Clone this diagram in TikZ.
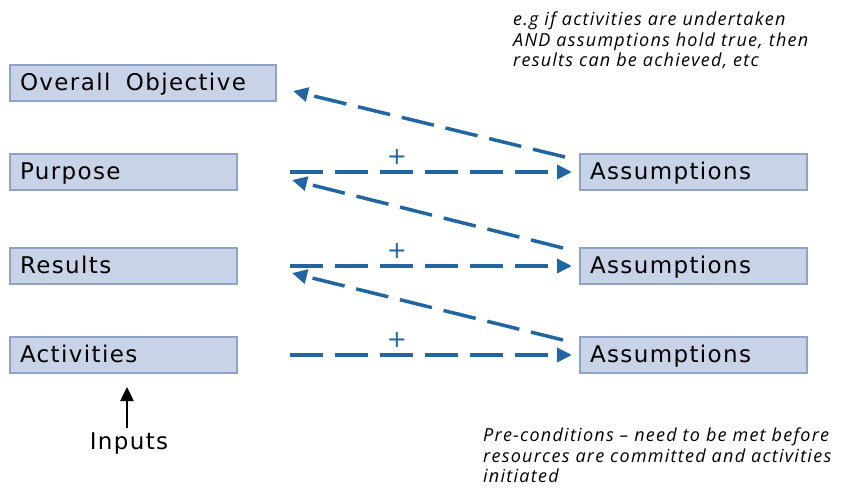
\documentclass[tikz,border=0pt]{standalone}
\usepackage{fontspec}
\setmainfont{DejaVu Sans}
\newfontfamily\notefont[LetterSpace=7]{Open Sans}
\newfontfamily\boxfont[LetterSpace=6]{DejaVu Sans}
\usetikzlibrary{arrows.meta}

\definecolor{boxfill}{HTML}{C9D3E7}
\definecolor{boxline}{HTML}{8EA3C6}
\definecolor{linkblue}{HTML}{2166A2}

\tikzset{
  levelbox/.style={draw=boxline, line width=1.2pt, fill=boxfill, anchor=west, outer sep=0pt,
    inner xsep=10pt, inner ysep=0pt, minimum height=36pt, align=left,
    font=\boxfont\fontsize{23}{26}\selectfont, text height=14pt, text depth=0pt},
  link/.style={draw=linkblue, line width=3.5pt, dash pattern=on 33pt off 12pt,
    -{Triangle[length=15pt,width=14pt]}},
  plus/.style={text=linkblue, font=\fontsize{24}{24}\selectfont, inner sep=0pt},
  note/.style={font=\notefont\itshape\fontsize{18}{20.5}\selectfont, align=left, anchor=north west, inner sep=0pt}
}

\begin{document}
\begin{tikzpicture}[x=1pt, y=-1pt]
\useasboundingbox (0,0) rectangle (844,488);

% Left column
\node[levelbox, text width=246pt] (objective) at (10,83) {Overall\ \ Objective};
\node[levelbox, text width=207pt] (purpose) at (10,172) {Purpose};
\node[levelbox, text width=207pt] (results) at (10,266) {Results};
\node[levelbox, text width=207pt] (activities) at (10,355) {Activities};

% Right column
\node[levelbox, text width=207pt] (asum1) at (580,172) {Assumptions};
\node[levelbox, text width=207pt] (asum2) at (580,266) {Assumptions};
\node[levelbox, text width=207pt] (asum3) at (580,355) {Assumptions};

% Horizontal links
\draw[link] ([xshift=53pt]purpose.east) -- ([xshift=-8pt]asum1.west);
\draw[link] ([xshift=53pt]results.east) -- ([xshift=-8pt]asum2.west);
\draw[link] ([xshift=53pt]activities.east) -- ([xshift=-8pt]asum3.west);

% Plus signs
\node[plus] (plus1) at (397,157) {+};
\node[plus] (plus2) at (397,251) {+};
\node[plus] (plus3) at (397,340) {+};

% Diagonal links
\draw[link] ([shift={(-15,-15)}]asum1.west) -- ([shift={(17,8)}]objective.east);
\draw[link] ([shift={(-17,-18)}]asum2.west) -- ([shift={(55,8)}]purpose.east);
\draw[link] ([shift={(-17,-15)}]asum3.west) -- ([shift={(55,7)}]results.east);

% Inputs
\node[font=\boxfont\fontsize{23}{26}\selectfont] (inputs) at (129,444) {Inputs};
\draw[line width=2.5pt, -{Triangle[length=14pt,width=13pt]}, shorten <=2pt, shorten >=14pt]
  ([xshift=-2pt]inputs.north) -- ([xshift=-2pt]inputs.north |- activities.south);

% Notes
\node[note] (topnote) at (513,12) {e.g if activities are undertaken\\AND assumptions hold true, then\\results can be achieved, etc};
\node[note] (prenote) at (483,428) {Pre-conditions – need to be met before\\resources are committed and activities\\initiated};
\end{tikzpicture}
\end{document}
